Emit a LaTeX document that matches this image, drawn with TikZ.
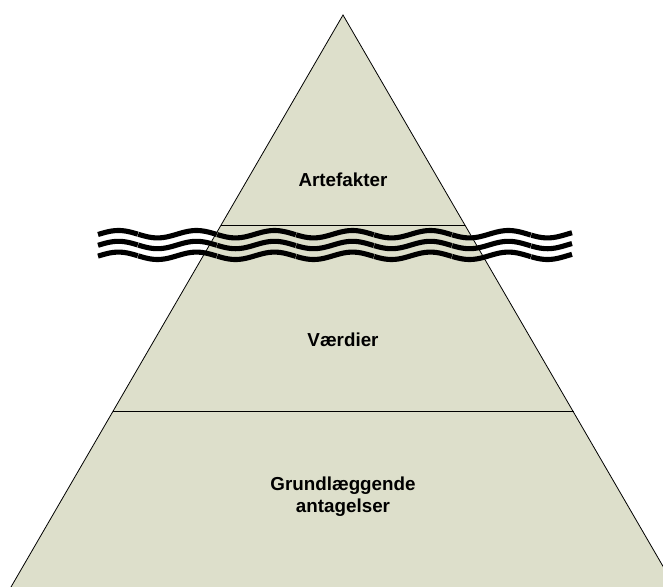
\documentclass[tikz,border=0pt]{standalone}
\usepackage{fontspec}
\setmainfont{Liberation Sans}
\definecolor{pyrfill}{RGB}{221,223,203}
\begin{document}
\begin{tikzpicture}[x=1pt,y=-1pt,
  label/.style={font=\bfseries\fontsize{18.8}{22.7}\selectfont, text=black, inner sep=0pt, align=center},
  wave/.style={line width=5.1pt, black, line cap=butt},
  edge/.style={draw=black, line width=0.8pt}]
\useasboundingbox (0,0) rectangle (663,586);
\clip (0,0) rectangle (663,586);
\coordinate (apex) at (343,15);
\coordinate (bl) at (11,587);
\coordinate (br) at (675,587);
\fill[pyrfill] (apex) -- (bl) -- (br) -- cycle;
\draw[edge] (bl) -- (apex) -- (br);
\coordinate (l1) at (221,225);
\coordinate (r1) at (465,225);
\coordinate (l2) at (112.5,411);
\coordinate (r2) at (573.5,411);
\draw[edge] (l1) -- (r1);
\draw[edge] (l2) -- (r2);
% waves
\foreach \c in {234.2,245,255.8}{
  \foreach \a/\b in {98/137.8,138.2/216.8,217.2/295.8,296.2/373.8,374.2/451.8,452.2/530.8,531.2/572}{
    \draw[wave] plot[domain=\a:\b, samples=40, smooth] (\x,{\c+3.7*sin(4.61538*(\x-138))});
  }
}
\node[label, anchor=base] (art) at (343,186.7) {Artefakter};
\node[label, anchor=base] (vaer) at (343,346) {Værdier};
\node[label, anchor=base] (grund) at (343,512.7) {Grundlæggende\\antagelser};
\end{tikzpicture}
\end{document}
